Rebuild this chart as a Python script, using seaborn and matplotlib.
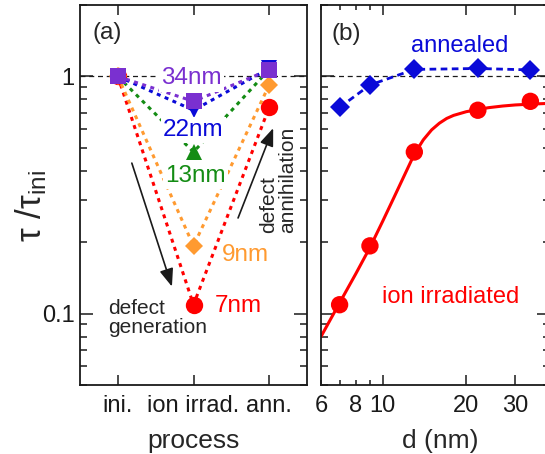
import numpy as np
import pandas as pd
import matplotlib
matplotlib.use('Agg')
import matplotlib.pyplot as plt
import seaborn as sns
from matplotlib.ticker import FixedLocator, FixedFormatter, NullFormatter, LogLocator

# ---------------- data ----------------
process_steps = ['ini.', 'ion irrad.', 'ann.']
size_labels = ['7nm', '9nm', '13nm', '22nm', '34nm']
d_nm = [7, 9, 13, 22, 34]
tau_ini = [1.0, 1.0, 1.0, 1.0, 1.0]
tau_irrad = [0.109, 0.193, 0.48, 0.72, 0.785]
tau_ann = [0.74, 0.92, 1.07, 1.08, 1.065]
# fitted curve
fit_d = [6, 7, 8, 9, 10, 11, 12, 13, 14, 15, 16, 17, 18, 20, 22, 24, 27,
         30, 35, 40]
fit_tau = [0.080, 0.111, 0.147, 0.190, 0.245, 0.31, 0.385, 0.47, 0.54,
           0.595, 0.635, 0.665, 0.685, 0.71, 0.725, 0.738, 0.75, 0.758,
           0.765, 0.77]

# ---------------- style ----------------
sns.set_theme(style='ticks')
plt.rcParams['font.family'] = ['Liberation Sans', 'DejaVu Sans']
plt.rcParams['mathtext.fontset'] = 'custom'
plt.rcParams['mathtext.rm'] = 'Liberation Sans'
plt.rcParams['mathtext.it'] = 'Liberation Sans:italic'
plt.rcParams['axes.linewidth'] = 1.3

RED = '#ff0000'
ORANGE = '#ff9a30'
GREEN = '#148c14'
BLUE = '#0a0ad8'
PURPLE = '#7a30d0'
colors = [RED, ORANGE, GREEN, BLUE, PURPLE]
markers = ['o', 'D', '^', 'v', 's']
msizes = [12.5, 9.5, 12, 12, 11]

fig = plt.figure(figsize=(5.45, 4.54), dpi=100)
axa = fig.add_axes([80 / 545, 69 / 454, 227 / 545, 380 / 454])
axb = fig.add_axes([321 / 545, 69 / 454, 229 / 545, 380 / 454])

# ---------------- panel (a) ----------------
xpos = np.arange(len(process_steps))
for i, lab in enumerate(size_labels):
    df = pd.DataFrame({'step': xpos,
                       'tau': [tau_ini[i], tau_irrad[i], tau_ann[i]]})
    sns.lineplot(data=df, x='step', y='tau', ax=axa, color=colors[i],
                 marker=markers[i], markersize=msizes[i], markeredgewidth=0,
                 markeredgecolor=colors[i], lw=2.2, linestyle=(0, (1.3, 1.5)),
                 sort=False, zorder=3 + i)

axa.axhline(1, color='k', lw=0.9, ls=(0, (4, 3)), zorder=1)
axa.set_yscale('log')
axa.set_ylim(0.05, 2)
axa.set_xlim(-0.5, 2.5)
axa.set_xticks(xpos)
axa.set_xticklabels(process_steps)

label_pos = {'34nm': (0.97, 0.98), '22nm': (1.0, 0.593), '13nm': (1.02, 0.38),
             '9nm': (1.69, 0.177), '7nm': (1.59, 0.108)}
for i, lab in enumerate(size_labels):
    x, y = label_pos[lab]
    kw = {}
    if lab in ('34nm', '22nm', '13nm'):
        kw['bbox'] = dict(facecolor='white', edgecolor='none', pad=1.5)
    axa.text(x, y, lab, color=colors[i], fontsize=17.5, ha='center',
             va='center', zorder=10, **kw)

axa.text(0.119, 0.926, '(a)', transform=axa.transAxes, fontsize=17.5,
         ha='center', va='center')
axa.text(-0.13, 0.096, 'defect\ngeneration', fontsize=15, ha='left',
         va='center', linespacing=1.0, multialignment='left')
axa.text(2.12, 0.366, 'defect\nannihilation', fontsize=15, ha='center',
         va='center', rotation=90, linespacing=1.05, multialignment='left')
arrow_kw = dict(arrowstyle='-|>,head_length=0.9,head_width=0.35',
                color='k', lw=1.2, shrinkA=0, shrinkB=0)
axa.annotate('', xy=(0.715, 0.130), xytext=(0.185, 0.431),
             arrowprops=arrow_kw)
axa.annotate('', xy=(2.053, 0.605), xytext=(1.589, 0.253),
             arrowprops=arrow_kw)

axa.set_xlabel('process', fontsize=19)
axa.set_ylabel('τ /τ$_{\\mathrm{ini}}$', fontsize=25)
axa.xaxis.set_label_coords(0.5, -0.115)
axa.yaxis.set_label_coords(-0.135, 0.47)

# ---------------- panel (b) ----------------
sns.lineplot(x=fit_d, y=fit_tau, ax=axb, color=RED, lw=2.2, zorder=2)
sns.scatterplot(x=d_nm, y=tau_irrad, ax=axb, color=RED, marker='o',
                s=12.5 ** 2, edgecolor='none', zorder=3)
sns.lineplot(x=d_nm, y=tau_ann, ax=axb, color=BLUE, marker='D', markersize=10,
             markeredgewidth=0, markeredgecolor=BLUE, lw=2.0,
             linestyle=(0, (2.4, 1.6)), zorder=3)
axb.axhline(1, color='k', lw=0.9, ls=(0, (4, 3)), zorder=1)
axb.set_xscale('log')
axb.set_yscale('log')
axb.set_xlim(6, 40)
axb.set_ylim(0.05, 2)
axb.xaxis.set_major_locator(FixedLocator([10, 20, 30]))
axb.xaxis.set_major_formatter(FixedFormatter(['10', '20', '30']))
axb.xaxis.set_minor_locator(FixedLocator([6, 7, 8, 9]))
axb.xaxis.set_minor_formatter(FixedFormatter(['6', '', '8', '']))
axb.text(0.109, 0.924, '(b)', transform=axb.transAxes, fontsize=17.5,
         ha='center', va='center')
axb.text(18.9, 1.337, 'annealed', color=BLUE, fontsize=17, ha='center',
         va='center')
axb.text(17.5, 0.118, 'ion irradiated', color=RED, fontsize=17, ha='center',
         va='center')
axb.set_xlabel('d (nm)', fontsize=19)
axb.set_ylabel('')
axb.xaxis.set_label_coords(0.52, -0.115)

# ---------------- ticks ----------------
for ax in (axa, axb):
    ax.yaxis.set_major_locator(LogLocator(base=10, numticks=10))
    ax.yaxis.set_minor_locator(LogLocator(base=10, subs=np.arange(2, 10),
                                          numticks=20))
    ax.yaxis.set_minor_formatter(NullFormatter())
    ax.tick_params(axis='both', which='both', direction='in', top=True,
                   right=True, labelsize=17, colors='k', width=1.1)
    ax.tick_params(axis='y', which='major', length=9.5, pad=4)
    ax.tick_params(axis='y', which='minor', length=5)
    ax.tick_params(axis='x', which='major', length=7, pad=7)
    ax.tick_params(axis='x', which='minor', length=3.5, pad=7)
    for s in ax.spines.values():
        s.set_color('k')

axa.yaxis.set_major_formatter(FixedFormatter(['0.1', '1']))
axa.yaxis.set_major_locator(FixedLocator([0.1, 1]))
axb.yaxis.set_major_locator(FixedLocator([0.1, 1]))
axb.tick_params(axis='y', which='both', labelleft=False)
axa.tick_params(axis='x', which='minor', bottom=False, top=False)

fig.savefig('out.png', dpi=100)
